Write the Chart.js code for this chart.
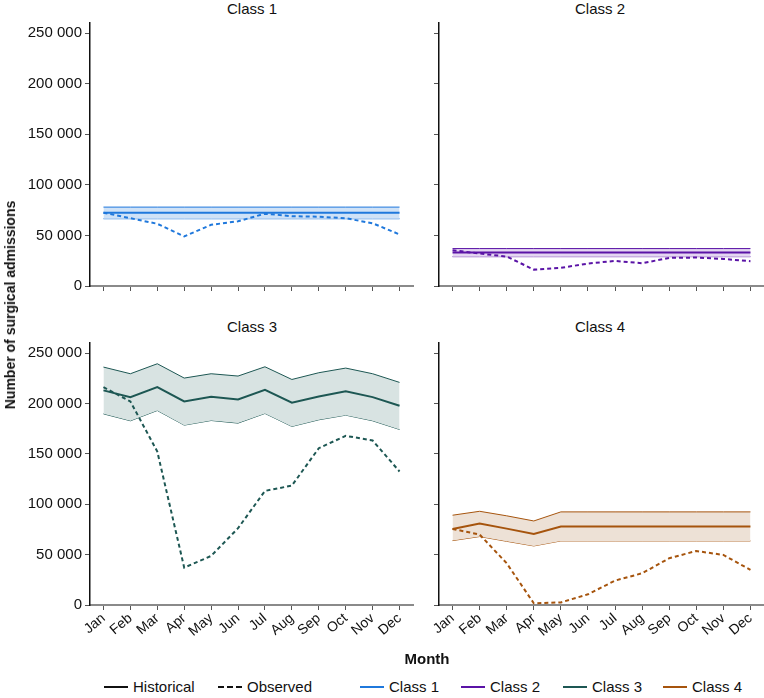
<!DOCTYPE html>
<html lang="en">
  <head>
    <meta charset="UTF-8" />
    <title>Surgical admissions by class</title>
    <script src="https://cdn.jsdelivr.net/npm/chart.js"></script>
    <style>
      body {
        margin: 0;
        width: 764px;
        height: 698px;
        position: relative;
        background: #fff;
        font-family: "Liberation Sans", Arial, sans-serif;
        color: #111;
        overflow: hidden;
      }
      canvas {
        position: absolute;
      }
      .panel-title {
        position: absolute;
        font-size: 15px;
        transform: translateX(-50%);
        white-space: nowrap;
      }
      .axis-title {
        position: absolute;
        font-size: 15px;
        font-weight: bold;
        white-space: nowrap;
      }
      .legend {
        position: absolute;
        top: 678px;
        font-size: 15px;
        display: flex;
        align-items: center;
        white-space: nowrap;
      }
      .legend .swatch {
        display: inline-block;
        width: 24px;
        height: 0;
        margin-right: 5px;
        border-top: 2px solid #111;
      }
    </style>
  </head>

  <body>
    <div class="panel-title" style="left: 252px; top: 0">Class 1</div>
    <div class="panel-title" style="left: 600px; top: 0">Class 2</div>
    <div class="panel-title" style="left: 252px; top: 318px">Class 3</div>
    <div class="panel-title" style="left: 600px; top: 318px">Class 4</div>

    <canvas id="c1" width="420" height="300" style="left: 0; top: 0"></canvas>
    <canvas id="c2" width="344" height="300" style="left: 420px; top: 0"></canvas>
    <canvas id="c3" width="420" height="350" style="left: 0; top: 310px"></canvas>
    <canvas id="c4" width="344" height="350" style="left: 420px; top: 310px"></canvas>

    <div
      class="axis-title"
      style="left: 10px; top: 305px; font-size: 14px; transform: translate(-50%, -50%) rotate(-90deg)"
    >
      Number of surgical admissions
    </div>
    <div class="axis-title" style="left: 427px; top: 650px; transform: translateX(-50%)">
      Month
    </div>

    <!-- Legend -->
    <div class="legend" style="left: 104px">
      <span class="swatch"></span>Historical
    </div>
    <div class="legend" style="left: 218px">
      <span class="swatch" style="border-top: 2px dashed #111"></span>Observed
    </div>
    <div class="legend" style="left: 360px">
      <span class="swatch" style="border-top-color: #1f78dc"></span>Class 1
    </div>
    <div class="legend" style="left: 461px">
      <span class="swatch" style="border-top-color: #5a13a6"></span>Class 2
    </div>
    <div class="legend" style="left: 563px">
      <span class="swatch" style="border-top-color: #1d5753"></span>Class 3
    </div>
    <div class="legend" style="left: 663px">
      <span class="swatch" style="border-top-color: #a6540d"></span>Class 4
    </div>

    <script>
      const months = ["Jan", "Feb", "Mar", "Apr", "May", "Jun", "Jul", "Aug", "Sep", "Oct", "Nov", "Dec"];
      const yTicks = [0, 50000, 100000, 150000, 200000, 250000];

      // Class 1
      const class1Mean = [72500, 72500, 72500, 72500, 72500, 72500, 72500, 72500, 72500, 72500, 72500, 72500];
      const class1Upper = [78000, 78000, 78000, 78000, 78000, 78000, 78000, 78000, 78000, 78000, 78000, 78000];
      const class1Lower = [66500, 66500, 66500, 66500, 66500, 66500, 66500, 66500, 66500, 66500, 66500, 66500];
      const class1Observed = [72500, 67000, 61500, 49000, 60500, 64000, 71500, 69000, 68500, 67000, 62000, 51000];

      // Class 2
      const class2Mean = [33000, 33000, 33000, 33000, 33000, 33000, 33000, 33000, 33000, 33000, 33000, 33000];
      const class2Upper = [37000, 37000, 37000, 37000, 37000, 37000, 37000, 37000, 37000, 37000, 37000, 37000];
      const class2Lower = [29000, 29000, 29000, 29000, 29000, 29000, 29000, 29000, 29000, 29000, 29000, 29000];
      const class2Observed = [35400, 32100, 29100, 16200, 17900, 22200, 24800, 22500, 27800, 28100, 26800, 24500];

      // Class 3
      const class3Mean = [213000, 206300, 216200, 202000, 206600, 204000, 213600, 200700, 207000, 212000, 206300, 197700];
      const class3Upper = [236100, 229500, 239400, 225200, 229500, 227200, 236400, 223800, 230500, 235100, 229500, 220900];
      const class3Lower = [189700, 182800, 193000, 178500, 183100, 180500, 190100, 177200, 183800, 188400, 182800, 174200];
      const class3Observed = [216200, 202000, 152300, 37100, 48700, 76200, 113200, 118500, 155600, 167900, 163200, 132500];

      // Class 4
      const class4Mean = [75500, 80800, 75800, 70500, 77800, 77800, 77800, 77800, 77800, 77800, 77800, 77800];
      const class4Upper = [89100, 93000, 88500, 83400, 92400, 92400, 92400, 92400, 92400, 92400, 92400, 92400];
      const class4Lower = [63900, 67900, 63200, 58600, 63600, 63600, 63600, 63600, 63600, 63600, 63600, 63600];
      const class4Observed = [75500, 69900, 41400, 1700, 2600, 10600, 24200, 31500, 46400, 53600, 49700, 34800];

      const fmt = (v) => String(v).replace(/\B(?=(\d{3})+(?!\d))/g, " ");

      function makePanel(id, cfg) {
        const ctx = document.getElementById(id).getContext("2d");
        // higher "order" is drawn first, so the band sits under the lines
        return new Chart(ctx, {
          type: "line",
          data: {
            labels: months,
            datasets: [
              {
                data: cfg.lower,
                borderColor: cfg.color,
                borderWidth: 1,
                pointRadius: 0,
                fill: false,
                order: 4,
              },
              {
                data: cfg.upper,
                borderColor: cfg.color,
                backgroundColor: cfg.band,
                borderWidth: 1,
                pointRadius: 0,
                fill: "-1",
                order: 3,
              },
              {
                data: cfg.mean,
                borderColor: cfg.color,
                borderWidth: 2,
                pointRadius: 0,
                fill: false,
                order: 2,
              },
              {
                data: cfg.observed,
                borderColor: cfg.color,
                borderWidth: 2,
                borderDash: [4, 3],
                pointRadius: 0,
                fill: false,
                order: 1,
              },
            ],
          },
          options: {
            responsive: false,
            animation: false,
            layout: { padding: { top: cfg.padTop, right: cfg.padRight, left: 0, bottom: 0 } },
            plugins: { legend: { display: false }, tooltip: { enabled: false } },
            scales: {
              x: {
                offset: true,
                grid: { drawOnChartArea: false, drawTicks: true, tickLength: 5, color: "#555" },
                border: { color: "#8a8a8a", width: 2 },
                ticks: {
                  display: cfg.showMonths,
                  autoSkip: false,
                  minRotation: 40,
                  maxRotation: 40,
                  padding: 0,
                  color: "#111",
                  font: { family: "Liberation Sans", size: 14 },
                },
                afterFit: (s) => {
                  s.height = cfg.xHeight;
                },
              },
              y: {
                min: 0,
                max: 260000,
                afterBuildTicks: (s) => {
                  s.ticks = yTicks.map((v) => ({ value: v }));
                },
                grid: { drawOnChartArea: false, drawTicks: true, tickLength: 5, color: "#555" },
                border: { color: "#111", width: 1.5 },
                ticks: {
                  display: cfg.showValues,
                  padding: 3,
                  color: "#111",
                  font: { family: "Liberation Sans", size: 15 },
                  callback: (v) => fmt(v),
                },
                afterFit: (s) => {
                  s.width = cfg.yWidth;
                },
              },
            },
          },
        });
      }

      makePanel("c1", {
        color: "#1f78dc", band: "#cfe2f7",
        mean: class1Mean, upper: class1Upper, lower: class1Lower, observed: class1Observed,
        padTop: 23, padRight: 7, xHeight: 14, yWidth: 90, showMonths: false, showValues: true,
      });
      makePanel("c2", {
        color: "#5a13a6", band: "#e4d6f1",
        mean: class2Mean, upper: class2Upper, lower: class2Lower, observed: class2Observed,
        padTop: 23, padRight: 0, xHeight: 14, yWidth: 19, showMonths: false, showValues: false,
      });
      makePanel("c3", {
        color: "#1d5753", band: "#d8e3e2",
        mean: class3Mean, upper: class3Upper, lower: class3Lower, observed: class3Observed,
        padTop: 33, padRight: 7, xHeight: 55, yWidth: 90, showMonths: true, showValues: true,
      });
      makePanel("c4", {
        color: "#a6540d", band: "#ede1d6",
        mean: class4Mean, upper: class4Upper, lower: class4Lower, observed: class4Observed,
        padTop: 33, padRight: 0, xHeight: 55, yWidth: 19, showMonths: true, showValues: false,
      });
    </script>
  </body>
</html>
